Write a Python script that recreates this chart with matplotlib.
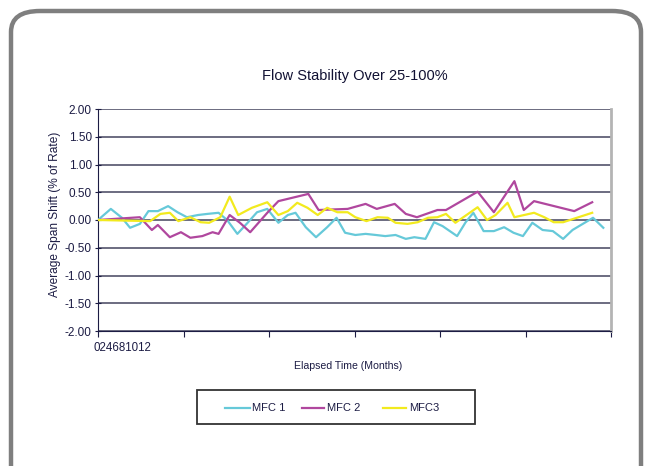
import matplotlib.pyplot as plt
from matplotlib.patches import FancyBboxPatch, Rectangle
from matplotlib.lines import Line2D

plt.rcParams['font.family'] = ['Liberation Sans', 'DejaVu Sans']

# ---- data (months, % of rate shift) ----
mfc1_t = [0, 1.5, 2.8, 3.75, 4.9, 5.9, 7.0, 8.2, 9.3, 10.4, 11.7, 12.8, 14.1, 15.1,
          16.3, 17.5, 18.6, 19.8, 21.1, 22.2, 23.1, 24.3, 25.5, 26.8, 27.9, 28.9,
          30.1, 31.3, 32.5, 33.6, 34.8, 36.0, 37.0, 38.3, 39.3, 40.3, 42.0, 43.0,
          43.9, 45.1, 46.3, 47.5, 48.6, 49.7, 50.8, 52.0, 53.2, 54.4, 55.5, 56.7,
          57.9, 59.1]
mfc1_v = [0.00, 0.20, 0.04, -0.14, -0.07, 0.16, 0.16, 0.25, 0.14, 0.05, 0.09, 0.11,
          0.13, 0.00, -0.25, -0.05, 0.14, 0.20, -0.05, 0.09, 0.13, -0.13, -0.31,
          -0.13, 0.04, -0.23, -0.27, -0.25, -0.27, -0.29, -0.27, -0.34, -0.31, -0.34,
          -0.04, -0.11, -0.29, -0.04, 0.13, -0.20, -0.20, -0.13, -0.23, -0.29, -0.05,
          -0.18, -0.20, -0.34, -0.18, -0.07, 0.04, -0.14]

mfc2_t = [0, 4.9, 6.3, 7.0, 8.4, 9.7, 10.8, 12.2, 13.4, 14.1, 15.4, 16.6, 17.8, 19.8,
          21.1, 24.6, 25.8, 29.2, 31.3, 32.6, 34.7, 36.0, 37.3, 39.7, 40.7, 44.4,
          46.3, 48.7, 49.8, 51.0, 55.7, 57.8]
mfc2_v = [0.00, 0.05, -0.18, -0.09, -0.31, -0.22, -0.32, -0.29, -0.22, -0.25, 0.09,
          -0.05, -0.22, 0.13, 0.34, 0.47, 0.18, 0.20, 0.29, 0.20, 0.29, 0.11, 0.05,
          0.18, 0.18, 0.51, 0.14, 0.70, 0.18, 0.34, 0.16, 0.32]

mfc3_t = [0, 6.1, 7.3, 8.4, 9.4, 10.8, 12.0, 13.0, 14.3, 15.4, 16.4, 18.0, 19.8, 21.1,
          22.2, 23.3, 24.5, 25.7, 26.8, 28.0, 29.2, 30.1, 31.4, 32.7, 33.9, 34.8,
          36.2, 37.4, 38.6, 39.7, 40.7, 41.8, 44.4, 45.5, 46.5, 47.9, 48.7, 51.0,
          52.2, 53.3, 54.4, 57.8]
mfc3_v = [0.00, -0.02, 0.11, 0.13, -0.02, 0.05, -0.04, -0.05, 0.05, 0.42, 0.09, 0.22,
          0.32, 0.09, 0.16, 0.31, 0.22, 0.09, 0.22, 0.14, 0.14, 0.05, -0.02, 0.05,
          0.04, -0.05, -0.07, -0.04, 0.04, 0.05, 0.11, -0.05, 0.23, 0.00, 0.09, 0.31,
          0.05, 0.13, 0.05, -0.04, -0.04, 0.13]

series_names = ['MFC 1', 'MFC 2', 'MFC3']
series_colors = ['#66c9d9', '#b0479e', '#f2ea1e']
y_ticks = [2.0, 1.5, 1.0, 0.5, 0.0, -0.5, -1.0, -1.5, -2.0]
x_ticks = [0, 10, 20, 30, 40, 50, 60]

navy = '#1c1c44'
W, H = 645.0, 466.0

# ====================================================
def fx(px):
	return px / W

def fy(py):
	return 1 - py / H

# ====================================================
def main():
	fig = plt.figure(figsize=(6.45, 4.66), dpi=100)

	# rounded outer frame
	frame = FancyBboxPatch((fx(11), fy(500)), fx(641) - fx(11), fy(11) - fy(500),
	                       boxstyle='round,pad=0,rounding_size=0.045',
	                       transform=fig.transFigure, fill=False,
	                       edgecolor='#7f7f7f', linewidth=3.2, clip_on=False)
	fig.patches.append(frame)

	ax = fig.add_axes([fx(98), fy(331), fx(611) - fx(98), fy(109) - fy(331)])
	for y in y_ticks:
		ax.axhline(y, color='#44445e', lw=1.1, zorder=1)

	ax.plot(mfc1_t, mfc1_v, color=series_colors[0], lw=1.6, zorder=3)
	ax.plot(mfc2_t, mfc2_v, color=series_colors[1], lw=1.6, zorder=3)
	ax.plot(mfc3_t, mfc3_v, color=series_colors[2], lw=1.6, zorder=3)

	ax.set_xlim(0, 60)
	ax.set_ylim(-2, 2)
	ax.set_yticks(y_ticks)
	ax.set_yticklabels(['%.2f' % v for v in y_ticks], fontsize=8.5, color=navy)
	ax.set_xticks(x_ticks)
	ax.set_xticklabels([])
	ax.tick_params(axis='y', direction='inout', length=5, color=navy, pad=2)
	ax.tick_params(axis='x', direction='out', length=4, color=navy)

	ax.spines['top'].set_visible(False)
	ax.spines['left'].set_color(navy)
	ax.spines['bottom'].set_color(navy)
	ax.spines['right'].set_color('#b4b4b4')
	ax.spines['right'].set_linewidth(2)

	fig.text(fx(93), fy(348), '024681012', fontsize=8.3, color=navy,
	         ha='left', va='center')

	fig.text(fx(355), fy(76), 'Flow Stability Over 25-100%',
	         fontsize=10.5, ha='center', va='center', color='#111133')
	fig.text(fx(348), fy(366), 'Elapsed Time (Months)',
	         fontsize=7.6, ha='center', va='center', color=navy)
	fig.text(fx(55), fy(214), 'Average Span Shift (% of Rate)',
	         fontsize=8.6, ha='center', va='center', rotation=90, color=navy)

	# legend box drawn by hand
	box = Rectangle((fx(197), fy(424)), fx(475) - fx(197), fy(390) - fy(424),
	                transform=fig.transFigure, fill=True, facecolor='white',
	                edgecolor='#333333', linewidth=1.3)
	fig.patches.append(box)
	handle_x = [(225, 250), (302, 324), (383, 406)]
	text_x = [252, 327, 409]
	for name, col, hx, tx in zip(series_names, series_colors, handle_x, text_x):
		fig.lines.append(Line2D([fx(hx[0]), fx(hx[1])], [fy(408), fy(408)],
		                        transform=fig.transFigure, color=col, lw=1.6))
		fig.text(fx(tx), fy(408), name, fontsize=8, color=navy,
		         ha='left', va='center')

	fig.savefig('out.png', dpi=100)

# ====================================================
if __name__ == "__main__":
	main()
